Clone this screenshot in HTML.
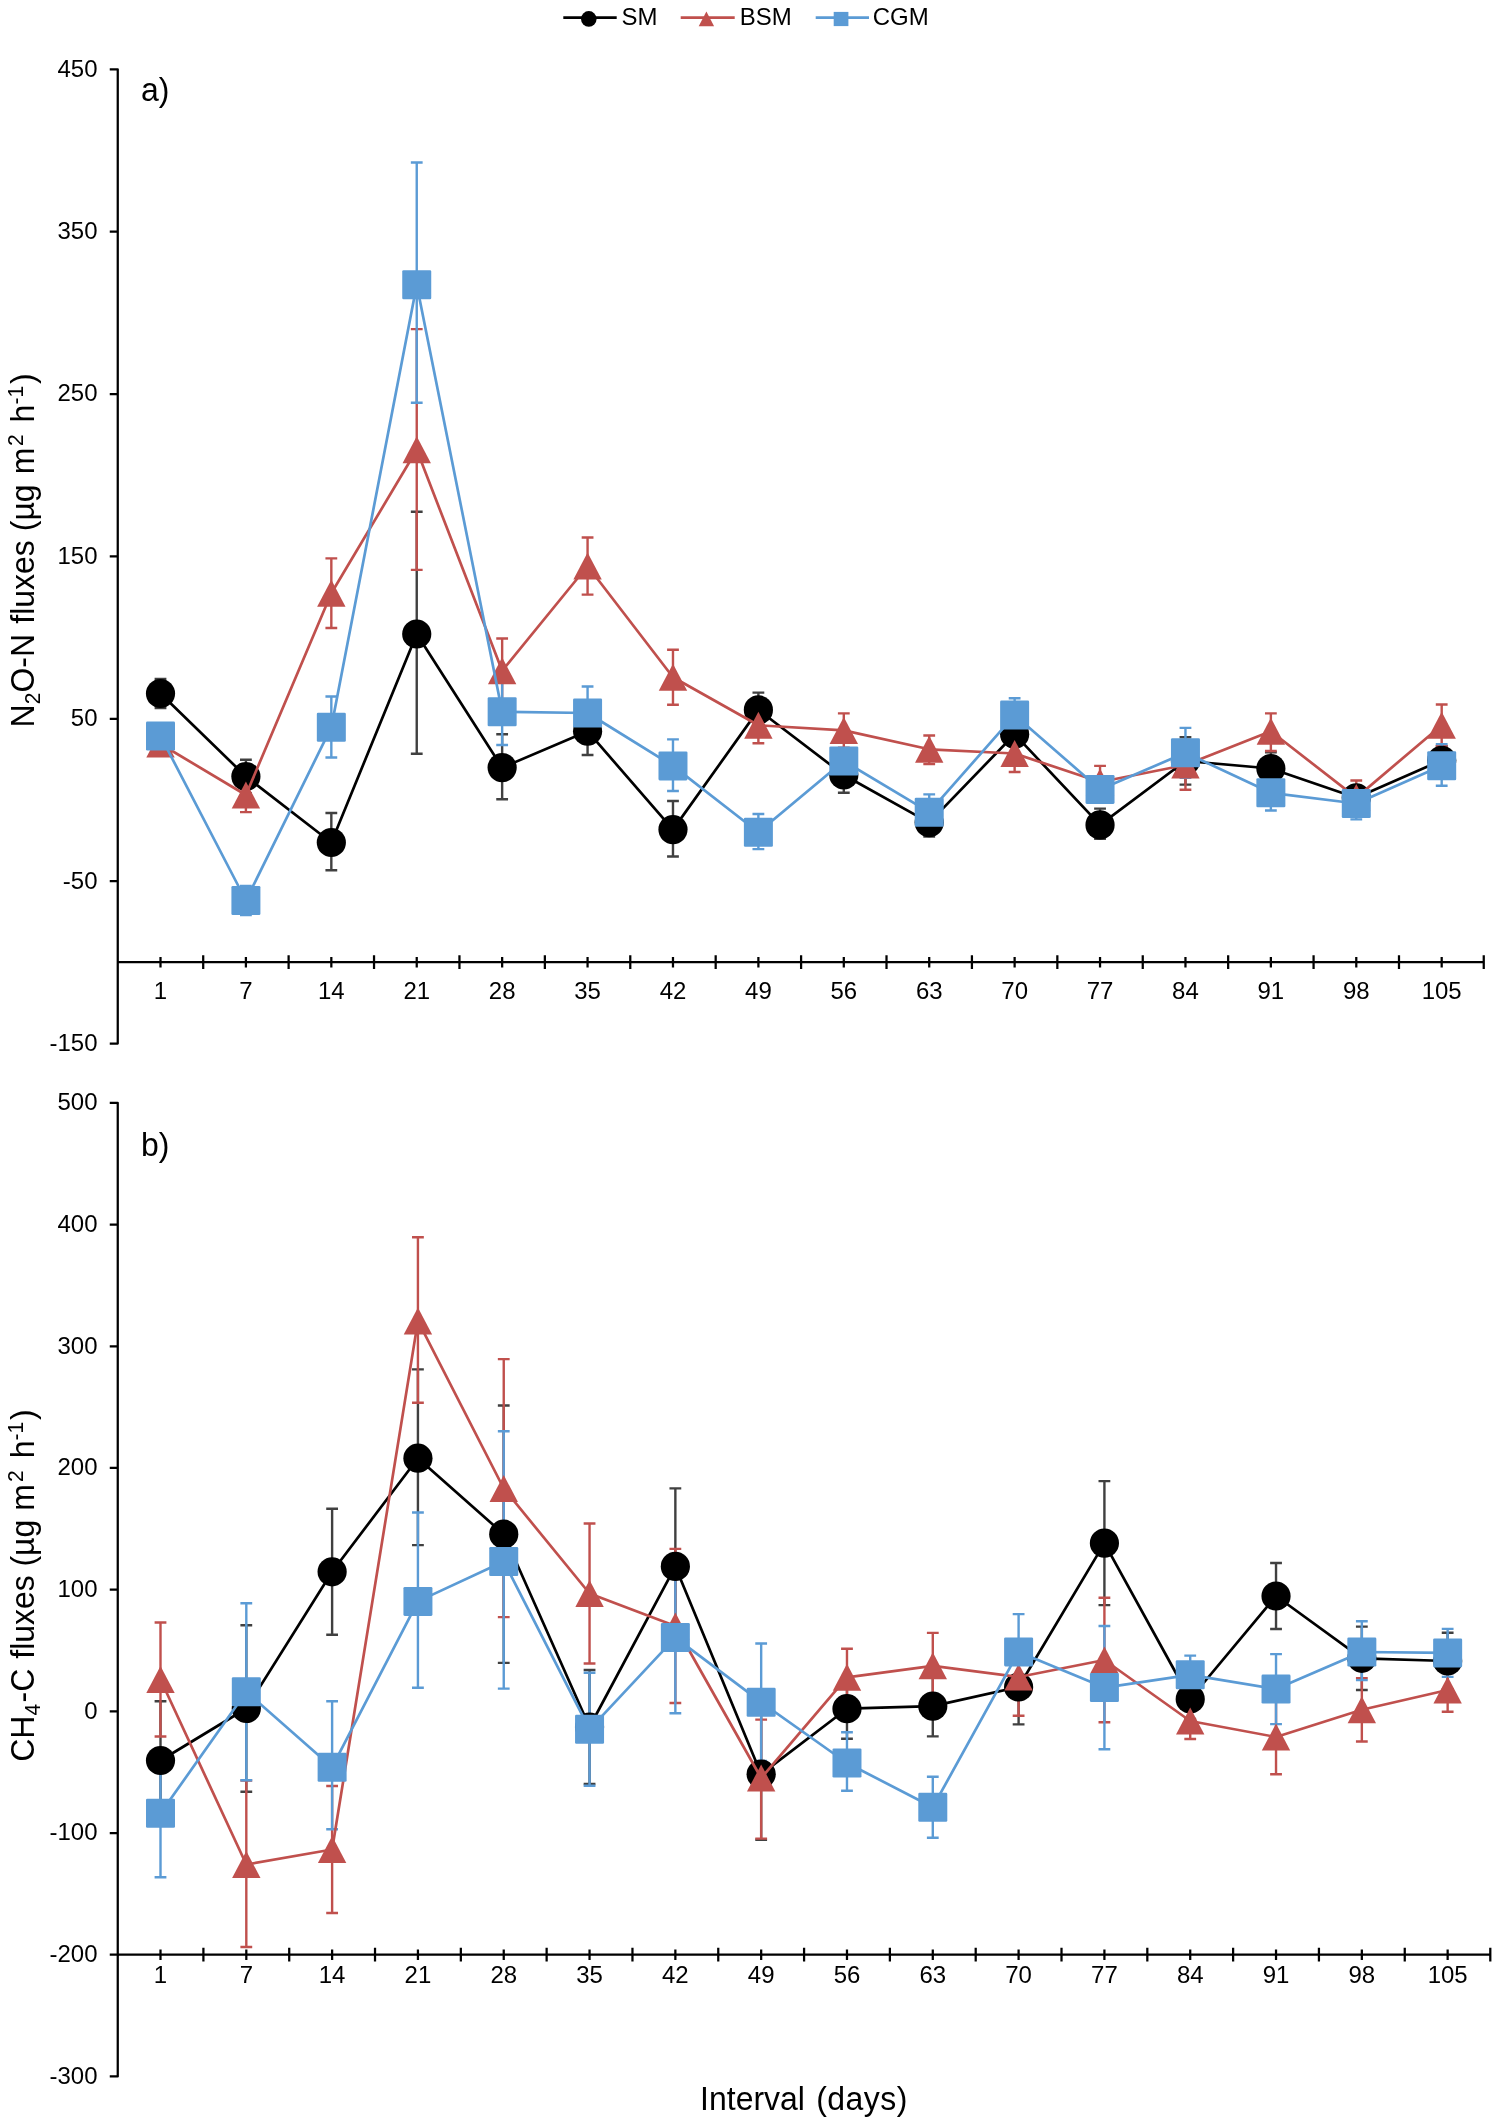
<!DOCTYPE html><html><head><meta charset="utf-8"><style>html,body{margin:0;padding:0;background:#fff}svg{display:block;will-change:transform}text{font-family:"Liberation Sans",sans-serif;fill:#000}</style></head><body>
<svg width="1499" height="2124" viewBox="0 0 1499 2124">
<rect width="1499" height="2124" fill="#fff"/>
<path d="M109.75 69.35H117.75V1043.51H109.75M109.75 231.71H117.75M109.75 394.07H117.75M109.75 556.43H117.75M109.75 718.79H117.75M109.75 881.15H117.75M117.75 962.2H1483.75" stroke="#000" stroke-width="2.25" fill="none" stroke-linejoin="round"/>
<path d="M203.21 955.3V969.1M288.62 955.3V969.1M374.03 955.3V969.1M459.45 955.3V969.1M544.86 955.3V969.1M630.27 955.3V969.1M715.68 955.3V969.1M801.1 955.3V969.1M886.51 955.3V969.1M971.92 955.3V969.1M1057.34 955.3V969.1M1142.75 955.3V969.1M1228.16 955.3V969.1M1313.58 955.3V969.1M1398.99 955.3V969.1M1483.75 955.3V969.1M160.5 956.9V967.5M245.91 956.9V967.5M331.33 956.9V967.5M416.74 956.9V967.5M502.15 956.9V967.5M587.57 956.9V967.5M672.98 956.9V967.5M758.39 956.9V967.5M843.8 956.9V967.5M929.22 956.9V967.5M1014.63 956.9V967.5M1100.04 956.9V967.5M1185.46 956.9V967.5M1270.87 956.9V967.5M1356.28 956.9V967.5M1441.69 956.9V967.5" stroke="#000" stroke-width="2.25" fill="none"/>
<text transform="translate(97.5 76.75) scale(1 1.035)" font-size="24" text-anchor="end">450</text>
<text transform="translate(97.5 239.11) scale(1 1.035)" font-size="24" text-anchor="end">350</text>
<text transform="translate(97.5 401.47) scale(1 1.035)" font-size="24" text-anchor="end">250</text>
<text transform="translate(97.5 563.83) scale(1 1.035)" font-size="24" text-anchor="end">150</text>
<text transform="translate(97.5 726.19) scale(1 1.035)" font-size="24" text-anchor="end">50</text>
<text transform="translate(97.5 888.55) scale(1 1.035)" font-size="24" text-anchor="end">-50</text>
<text transform="translate(97.5 1050.91) scale(1 1.035)" font-size="24" text-anchor="end">-150</text>
<text transform="translate(160.5 999.4) scale(1 1.035)" font-size="24" text-anchor="middle">1</text>
<text transform="translate(245.91 999.4) scale(1 1.035)" font-size="24" text-anchor="middle">7</text>
<text transform="translate(331.33 999.4) scale(1 1.035)" font-size="24" text-anchor="middle">14</text>
<text transform="translate(416.74 999.4) scale(1 1.035)" font-size="24" text-anchor="middle">21</text>
<text transform="translate(502.15 999.4) scale(1 1.035)" font-size="24" text-anchor="middle">28</text>
<text transform="translate(587.57 999.4) scale(1 1.035)" font-size="24" text-anchor="middle">35</text>
<text transform="translate(672.98 999.4) scale(1 1.035)" font-size="24" text-anchor="middle">42</text>
<text transform="translate(758.39 999.4) scale(1 1.035)" font-size="24" text-anchor="middle">49</text>
<text transform="translate(843.8 999.4) scale(1 1.035)" font-size="24" text-anchor="middle">56</text>
<text transform="translate(929.22 999.4) scale(1 1.035)" font-size="24" text-anchor="middle">63</text>
<text transform="translate(1014.63 999.4) scale(1 1.035)" font-size="24" text-anchor="middle">70</text>
<text transform="translate(1100.04 999.4) scale(1 1.035)" font-size="24" text-anchor="middle">77</text>
<text transform="translate(1185.46 999.4) scale(1 1.035)" font-size="24" text-anchor="middle">84</text>
<text transform="translate(1270.87 999.4) scale(1 1.035)" font-size="24" text-anchor="middle">91</text>
<text transform="translate(1356.28 999.4) scale(1 1.035)" font-size="24" text-anchor="middle">98</text>
<text transform="translate(1441.69 999.4) scale(1 1.035)" font-size="24" text-anchor="middle">105</text>
<text transform="translate(141 101.2) scale(1 1.035)" font-size="32">a)</text>
<path d="M160.5 679V708M154.6 679H166.4M154.6 708H166.4M245.91 759.8V793.2M240.01 759.8H251.81M240.01 793.2H251.81M331.33 813V870.2M325.43 813H337.23M325.43 870.2H337.23M416.74 511.7V753.7M410.84 511.7H422.64M410.84 753.7H422.64M502.15 734.2V799.3M496.25 734.2H508.05M496.25 799.3H508.05M587.57 707.2V755M581.67 707.2H593.47M581.67 755H593.47M672.98 801V856.5M667.08 801H678.88M667.08 856.5H678.88M758.39 692.6V727.2M752.49 692.6H764.29M752.49 727.2H764.29M843.8 757.3V792.7M837.9 757.3H849.7M837.9 792.7H849.7M929.22 808.6V836.6M923.32 808.6H935.12M923.32 836.6H935.12M1014.63 724.2V744.2M1008.73 724.2H1020.53M1008.73 744.2H1020.53M1100.04 808.6V838.9M1094.14 808.6H1105.94M1094.14 838.9H1105.94M1185.46 737.3V784.6M1179.56 737.3H1191.36M1179.56 784.6H1191.36M1270.87 752.2V784.8M1264.97 752.2H1276.77M1264.97 784.8H1276.77M1356.28 787.8V807.8M1350.38 787.8H1362.18M1350.38 807.8H1362.18M1441.69 746.3V774.3M1435.79 746.3H1447.6M1435.79 774.3H1447.6" stroke="#404040" stroke-width="2.4" fill="none" stroke-linecap="butt"/>
<path d="M160.5 734V754M154.6 734H166.4M154.6 754H166.4M245.91 778V812.1M240.01 778H251.81M240.01 812.1H251.81M331.33 558.4V628M325.43 558.4H337.23M325.43 628H337.23M416.74 329.1V569.9M410.84 329.1H422.64M410.84 569.9H422.64M502.15 638.5V703.1M496.25 638.5H508.05M496.25 703.1H508.05M587.57 537.5V594.6M581.67 537.5H593.47M581.67 594.6H593.47M672.98 649.7V704.7M667.08 649.7H678.88M667.08 704.7H678.88M758.39 707.7V743.3M752.49 707.7H764.29M752.49 743.3H764.29M843.8 713.4V747.8M837.9 713.4H849.7M837.9 747.8H849.7M929.22 735.5V764.1M923.32 735.5H935.12M923.32 764.1H935.12M1014.63 735.4V772M1008.73 735.4H1020.53M1008.73 772H1020.53M1100.04 765.9V798.1M1094.14 765.9H1105.94M1094.14 798.1H1105.94M1185.46 740.3V789.8M1179.56 740.3H1191.36M1179.56 789.8H1191.36M1270.87 713.4V751M1264.97 713.4H1276.77M1264.97 751H1276.77M1356.28 780.5V815.1M1350.38 780.5H1362.18M1350.38 815.1H1362.18M1441.69 704.5V745.9M1435.79 704.5H1447.6M1435.79 745.9H1447.6" stroke="#C0504D" stroke-width="2.4" fill="none" stroke-linecap="butt"/>
<path d="M160.5 726V746M154.6 726H166.4M154.6 746H166.4M245.91 886V915M240.01 886H251.81M240.01 915H251.81M331.33 696.5V757.5M325.43 696.5H337.23M325.43 757.5H337.23M416.74 162.5V402.8M410.84 162.5H422.64M410.84 402.8H422.64M502.15 678.4V745M496.25 678.4H508.05M496.25 745H508.05M587.57 686.5V739.5M581.67 686.5H593.47M581.67 739.5H593.47M672.98 739.4V791M667.08 739.4H678.88M667.08 791H678.88M758.39 814V849.1M752.49 814H764.29M752.49 849.1H764.29M843.8 751V771M837.9 751H849.7M837.9 771H849.7M929.22 794.4V830M923.32 794.4H935.12M923.32 830H935.12M1014.63 698.2V732M1008.73 698.2H1020.53M1008.73 732H1020.53M1100.04 776.4V802.4M1094.14 776.4H1105.94M1094.14 802.4H1105.94M1185.46 727.9V777.7M1179.56 727.9H1191.36M1179.56 777.7H1191.36M1270.87 775.1V810.5M1264.97 775.1H1276.77M1264.97 810.5H1276.77M1356.28 787.5V819.4M1350.38 787.5H1362.18M1350.38 819.4H1362.18M1441.69 744.1V785.8M1435.79 744.1H1447.6M1435.79 785.8H1447.6" stroke="#5B9BD5" stroke-width="2.4" fill="none" stroke-linecap="butt"/>
<polyline points="160.5,693.5 245.91,776.5 331.33,842.5 416.74,634 502.15,767.6 587.57,731.2 672.98,829.6 758.39,709.9 843.8,775 929.22,822.6 1014.63,734.2 1100.04,824.9 1185.46,761 1270.87,768.5 1356.28,797.8 1441.69,760.3" stroke="#000000" stroke-width="2.7" fill="none" stroke-linejoin="round"/>
<circle cx="160.5" cy="693.5" r="14.6" fill="#000000"/>
<circle cx="245.91" cy="776.5" r="14.6" fill="#000000"/>
<circle cx="331.33" cy="842.5" r="14.6" fill="#000000"/>
<circle cx="416.74" cy="634" r="14.6" fill="#000000"/>
<circle cx="502.15" cy="767.6" r="14.6" fill="#000000"/>
<circle cx="587.57" cy="731.2" r="14.6" fill="#000000"/>
<circle cx="672.98" cy="829.6" r="14.6" fill="#000000"/>
<circle cx="758.39" cy="709.9" r="14.6" fill="#000000"/>
<circle cx="843.8" cy="775" r="14.6" fill="#000000"/>
<circle cx="929.22" cy="822.6" r="14.6" fill="#000000"/>
<circle cx="1014.63" cy="734.2" r="14.6" fill="#000000"/>
<circle cx="1100.04" cy="824.9" r="14.6" fill="#000000"/>
<circle cx="1185.46" cy="761" r="14.6" fill="#000000"/>
<circle cx="1270.87" cy="768.5" r="14.6" fill="#000000"/>
<circle cx="1356.28" cy="797.8" r="14.6" fill="#000000"/>
<circle cx="1441.69" cy="760.3" r="14.6" fill="#000000"/>
<polyline points="160.5,744 245.91,795 331.33,593.3 416.74,449.8 502.15,670.8 587.57,566 672.98,677.3 758.39,725.3 843.8,730.4 929.22,749.3 1014.63,753.5 1100.04,782 1185.46,765 1270.87,731.3 1356.28,797.6 1441.69,725.2" stroke="#C0504D" stroke-width="2.7" fill="none" stroke-linejoin="round"/>
<path d="M160.5 730.5L174.7 757.5L146.3 757.5Z" fill="#C0504D"/>
<path d="M245.91 781.5L260.11 808.5L231.71 808.5Z" fill="#C0504D"/>
<path d="M331.33 579.8L345.53 606.8L317.13 606.8Z" fill="#C0504D"/>
<path d="M416.74 436.3L430.94 463.3L402.54 463.3Z" fill="#C0504D"/>
<path d="M502.15 657.3L516.35 684.3L487.95 684.3Z" fill="#C0504D"/>
<path d="M587.57 552.5L601.77 579.5L573.37 579.5Z" fill="#C0504D"/>
<path d="M672.98 663.8L687.18 690.8L658.78 690.8Z" fill="#C0504D"/>
<path d="M758.39 711.8L772.59 738.8L744.19 738.8Z" fill="#C0504D"/>
<path d="M843.8 716.9L858 743.9L829.6 743.9Z" fill="#C0504D"/>
<path d="M929.22 735.8L943.42 762.8L915.02 762.8Z" fill="#C0504D"/>
<path d="M1014.63 740L1028.83 767L1000.43 767Z" fill="#C0504D"/>
<path d="M1100.04 768.5L1114.24 795.5L1085.84 795.5Z" fill="#C0504D"/>
<path d="M1185.46 751.5L1199.66 778.5L1171.26 778.5Z" fill="#C0504D"/>
<path d="M1270.87 717.8L1285.07 744.8L1256.67 744.8Z" fill="#C0504D"/>
<path d="M1356.28 784.1L1370.48 811.1L1342.08 811.1Z" fill="#C0504D"/>
<path d="M1441.69 711.7L1455.89 738.7L1427.49 738.7Z" fill="#C0504D"/>
<polyline points="160.5,736 245.91,900.5 331.33,727.2 416.74,284.7 502.15,711.7 587.57,713 672.98,765.9 758.39,832.2 843.8,761 929.22,812.2 1014.63,715.1 1100.04,789.4 1185.46,752.8 1270.87,792.8 1356.28,803.5 1441.69,765.8" stroke="#5B9BD5" stroke-width="2.7" fill="none" stroke-linejoin="round"/>
<rect x="146" y="721.5" width="29" height="29" rx="1.3" fill="#5B9BD5"/>
<rect x="231.41" y="886" width="29" height="29" rx="1.3" fill="#5B9BD5"/>
<rect x="316.83" y="712.7" width="29" height="29" rx="1.3" fill="#5B9BD5"/>
<rect x="402.24" y="270.2" width="29" height="29" rx="1.3" fill="#5B9BD5"/>
<rect x="487.65" y="697.2" width="29" height="29" rx="1.3" fill="#5B9BD5"/>
<rect x="573.07" y="698.5" width="29" height="29" rx="1.3" fill="#5B9BD5"/>
<rect x="658.48" y="751.4" width="29" height="29" rx="1.3" fill="#5B9BD5"/>
<rect x="743.89" y="817.7" width="29" height="29" rx="1.3" fill="#5B9BD5"/>
<rect x="829.3" y="746.5" width="29" height="29" rx="1.3" fill="#5B9BD5"/>
<rect x="914.72" y="797.7" width="29" height="29" rx="1.3" fill="#5B9BD5"/>
<rect x="1000.13" y="700.6" width="29" height="29" rx="1.3" fill="#5B9BD5"/>
<rect x="1085.54" y="774.9" width="29" height="29" rx="1.3" fill="#5B9BD5"/>
<rect x="1170.96" y="738.3" width="29" height="29" rx="1.3" fill="#5B9BD5"/>
<rect x="1256.37" y="778.3" width="29" height="29" rx="1.3" fill="#5B9BD5"/>
<rect x="1341.78" y="789" width="29" height="29" rx="1.3" fill="#5B9BD5"/>
<rect x="1427.19" y="751.3" width="29" height="29" rx="1.3" fill="#5B9BD5"/>
<path d="M109.75 1102.9H117.75V2076.42H109.75M109.75 1224.59H117.75M109.75 1346.28H117.75M109.75 1467.97H117.75M109.75 1589.66H117.75M109.75 1711.35H117.75M109.75 1833.04H117.75M109.75 1954.73H117.75M117.75 1954.7H1490.3" stroke="#000" stroke-width="2.25" fill="none" stroke-linejoin="round"/>
<path d="M203.41 1947.8V1961.6M289.22 1947.8V1961.6M375.02 1947.8V1961.6M460.84 1947.8V1961.6M546.64 1947.8V1961.6M632.46 1947.8V1961.6M718.26 1947.8V1961.6M804.08 1947.8V1961.6M889.88 1947.8V1961.6M975.7 1947.8V1961.6M1061.51 1947.8V1961.6M1147.32 1947.8V1961.6M1233.12 1947.8V1961.6M1318.93 1947.8V1961.6M1404.75 1947.8V1961.6M1490.3 1947.8V1961.6M160.5 1949.4V1960M246.31 1949.4V1960M332.12 1949.4V1960M417.93 1949.4V1960M503.74 1949.4V1960M589.55 1949.4V1960M675.36 1949.4V1960M761.17 1949.4V1960M846.98 1949.4V1960M932.79 1949.4V1960M1018.6 1949.4V1960M1104.41 1949.4V1960M1190.22 1949.4V1960M1276.03 1949.4V1960M1361.84 1949.4V1960M1447.65 1949.4V1960" stroke="#000" stroke-width="2.25" fill="none"/>
<text transform="translate(97.5 1110.2) scale(1 1.035)" font-size="24" text-anchor="end">500</text>
<text transform="translate(97.5 1231.89) scale(1 1.035)" font-size="24" text-anchor="end">400</text>
<text transform="translate(97.5 1353.58) scale(1 1.035)" font-size="24" text-anchor="end">300</text>
<text transform="translate(97.5 1475.27) scale(1 1.035)" font-size="24" text-anchor="end">200</text>
<text transform="translate(97.5 1596.96) scale(1 1.035)" font-size="24" text-anchor="end">100</text>
<text transform="translate(97.5 1718.65) scale(1 1.035)" font-size="24" text-anchor="end">0</text>
<text transform="translate(97.5 1840.34) scale(1 1.035)" font-size="24" text-anchor="end">-100</text>
<text transform="translate(97.5 1962.03) scale(1 1.035)" font-size="24" text-anchor="end">-200</text>
<text transform="translate(97.5 2083.72) scale(1 1.035)" font-size="24" text-anchor="end">-300</text>
<text transform="translate(160.5 1983.4) scale(1 1.035)" font-size="24" text-anchor="middle">1</text>
<text transform="translate(246.31 1983.4) scale(1 1.035)" font-size="24" text-anchor="middle">7</text>
<text transform="translate(332.12 1983.4) scale(1 1.035)" font-size="24" text-anchor="middle">14</text>
<text transform="translate(417.93 1983.4) scale(1 1.035)" font-size="24" text-anchor="middle">21</text>
<text transform="translate(503.74 1983.4) scale(1 1.035)" font-size="24" text-anchor="middle">28</text>
<text transform="translate(589.55 1983.4) scale(1 1.035)" font-size="24" text-anchor="middle">35</text>
<text transform="translate(675.36 1983.4) scale(1 1.035)" font-size="24" text-anchor="middle">42</text>
<text transform="translate(761.17 1983.4) scale(1 1.035)" font-size="24" text-anchor="middle">49</text>
<text transform="translate(846.98 1983.4) scale(1 1.035)" font-size="24" text-anchor="middle">56</text>
<text transform="translate(932.79 1983.4) scale(1 1.035)" font-size="24" text-anchor="middle">63</text>
<text transform="translate(1018.6 1983.4) scale(1 1.035)" font-size="24" text-anchor="middle">70</text>
<text transform="translate(1104.41 1983.4) scale(1 1.035)" font-size="24" text-anchor="middle">77</text>
<text transform="translate(1190.22 1983.4) scale(1 1.035)" font-size="24" text-anchor="middle">84</text>
<text transform="translate(1276.03 1983.4) scale(1 1.035)" font-size="24" text-anchor="middle">91</text>
<text transform="translate(1361.84 1983.4) scale(1 1.035)" font-size="24" text-anchor="middle">98</text>
<text transform="translate(1447.65 1983.4) scale(1 1.035)" font-size="24" text-anchor="middle">105</text>
<text transform="translate(141 1155.5) scale(1 1.035)" font-size="32">b)</text>
<path d="M160.5 1701.2V1819.8M154.6 1701.2H166.4M154.6 1819.8H166.4M246.31 1625.2V1791.8M240.41 1625.2H252.21M240.41 1791.8H252.21M332.12 1508.8V1634.8M326.22 1508.8H338.02M326.22 1634.8H338.02M417.93 1369.4V1545.1M412.03 1369.4H423.83M412.03 1545.1H423.83M503.74 1405.5V1662.9M497.84 1405.5H509.64M497.84 1662.9H509.64M589.55 1670V1784M583.65 1670H595.45M583.65 1784H595.45M675.36 1488.4V1644.4M669.46 1488.4H681.26M669.46 1644.4H681.26M761.17 1708.6V1839.8M755.27 1708.6H767.07M755.27 1839.8H767.07M846.98 1678.7V1738.7M841.08 1678.7H852.88M841.08 1738.7H852.88M932.79 1675.8V1736.4M926.89 1675.8H938.69M926.89 1736.4H938.69M1018.6 1649.6V1724.4M1012.7 1649.6H1024.5M1012.7 1724.4H1024.5M1104.41 1481.1V1605.1M1098.51 1481.1H1110.31M1098.51 1605.1H1110.31M1190.22 1679V1719M1184.32 1679H1196.12M1184.32 1719H1196.12M1276.03 1563V1629M1270.13 1563H1281.93M1270.13 1629H1281.93M1361.84 1626.6V1690M1355.94 1626.6H1367.74M1355.94 1690H1367.74M1447.65 1632.7V1689.3M1441.75 1632.7H1453.55M1441.75 1689.3H1453.55" stroke="#404040" stroke-width="2.4" fill="none" stroke-linecap="butt"/>
<path d="M160.5 1622.5V1736.5M154.6 1622.5H166.4M154.6 1736.5H166.4M246.31 1780.5V1947M240.41 1780.5H252.21M240.41 1947H252.21M332.12 1786V1913M326.22 1786H338.02M326.22 1913H338.02M417.93 1237.2V1402.8M412.03 1237.2H423.83M412.03 1402.8H423.83M503.74 1359.1V1617.1M497.84 1359.1H509.64M497.84 1617.1H509.64M589.55 1523.5V1663.5M583.65 1523.5H595.45M583.65 1663.5H595.45M675.36 1548.9V1703M669.46 1548.9H681.26M669.46 1703H681.26M761.17 1719.6V1838.6M755.27 1719.6H767.07M755.27 1838.6H767.07M846.98 1648.8V1705.8M841.08 1648.8H852.88M841.08 1705.8H852.88M932.79 1632.9V1699.7M926.89 1632.9H938.69M926.89 1699.7H938.69M1018.6 1641.4V1715.8M1012.7 1641.4H1024.5M1012.7 1715.8H1024.5M1104.41 1597.7V1722.3M1098.51 1597.7H1110.31M1098.51 1722.3H1110.31M1190.22 1703V1739M1184.32 1703H1196.12M1184.32 1739H1196.12M1276.03 1699.7V1774.3M1270.13 1699.7H1281.93M1270.13 1774.3H1281.93M1361.84 1678.1V1741.5M1355.94 1678.1H1367.74M1355.94 1741.5H1367.74M1447.65 1668.3V1711.7M1441.75 1668.3H1453.55M1441.75 1711.7H1453.55" stroke="#C0504D" stroke-width="2.4" fill="none" stroke-linecap="butt"/>
<path d="M160.5 1749.3V1877.3M154.6 1749.3H166.4M154.6 1877.3H166.4M246.31 1603.3V1780.3M240.41 1603.3H252.21M240.41 1780.3H252.21M332.12 1701.2V1829.3M326.22 1701.2H338.02M326.22 1829.3H338.02M417.93 1512.5V1687.7M412.03 1512.5H423.83M412.03 1687.7H423.83M503.74 1431.3V1688.6M497.84 1431.3H509.64M497.84 1688.6H509.64M589.55 1672.8V1785.8M583.65 1672.8H595.45M583.65 1785.8H595.45M675.36 1561.9V1713.3M669.46 1561.9H681.26M669.46 1713.3H681.26M761.17 1643.5V1760.9M755.27 1643.5H767.07M755.27 1760.9H767.07M846.98 1732.2V1790.7M841.08 1732.2H852.88M841.08 1790.7H852.88M932.79 1776.7V1837.7M926.89 1776.7H938.69M926.89 1837.7H938.69M1018.6 1614.1V1689.7M1012.7 1614.1H1024.5M1012.7 1689.7H1024.5M1104.41 1626V1749.2M1098.51 1626H1110.31M1098.51 1749.2H1110.31M1190.22 1655.6V1694M1184.32 1655.6H1196.12M1184.32 1694H1196.12M1276.03 1654.1V1724.1M1270.13 1654.1H1281.93M1270.13 1724.1H1281.93M1361.84 1621.3V1680.1M1355.94 1621.3H1367.74M1355.94 1680.1H1367.74M1447.65 1628.9V1676.9M1441.75 1628.9H1453.55M1441.75 1676.9H1453.55" stroke="#5B9BD5" stroke-width="2.4" fill="none" stroke-linecap="butt"/>
<polyline points="160.5,1760.5 246.31,1708.5 332.12,1571.8 417.93,1458.2 503.74,1534.2 589.55,1727 675.36,1566.4 761.17,1774.2 846.98,1708.7 932.79,1706.1 1018.6,1687 1104.41,1543.1 1190.22,1699 1276.03,1596 1361.84,1658.3 1447.65,1661" stroke="#000000" stroke-width="2.7" fill="none" stroke-linejoin="round"/>
<circle cx="160.5" cy="1760.5" r="14.6" fill="#000000"/>
<circle cx="246.31" cy="1708.5" r="14.6" fill="#000000"/>
<circle cx="332.12" cy="1571.8" r="14.6" fill="#000000"/>
<circle cx="417.93" cy="1458.2" r="14.6" fill="#000000"/>
<circle cx="503.74" cy="1534.2" r="14.6" fill="#000000"/>
<circle cx="589.55" cy="1727" r="14.6" fill="#000000"/>
<circle cx="675.36" cy="1566.4" r="14.6" fill="#000000"/>
<circle cx="761.17" cy="1774.2" r="14.6" fill="#000000"/>
<circle cx="846.98" cy="1708.7" r="14.6" fill="#000000"/>
<circle cx="932.79" cy="1706.1" r="14.6" fill="#000000"/>
<circle cx="1018.6" cy="1687" r="14.6" fill="#000000"/>
<circle cx="1104.41" cy="1543.1" r="14.6" fill="#000000"/>
<circle cx="1190.22" cy="1699" r="14.6" fill="#000000"/>
<circle cx="1276.03" cy="1596" r="14.6" fill="#000000"/>
<circle cx="1361.84" cy="1658.3" r="14.6" fill="#000000"/>
<circle cx="1447.65" cy="1661" r="14.6" fill="#000000"/>
<polyline points="160.5,1679.5 246.31,1864.5 332.12,1849.5 417.93,1320.9 503.74,1488.5 589.55,1593.5 675.36,1626 761.17,1778 846.98,1677.3 932.79,1665.8 1018.6,1677 1104.41,1660 1190.22,1721 1276.03,1737 1361.84,1709.8 1447.65,1690" stroke="#C0504D" stroke-width="2.7" fill="none" stroke-linejoin="round"/>
<path d="M160.5 1666L174.7 1693L146.3 1693Z" fill="#C0504D"/>
<path d="M246.31 1851L260.51 1878L232.11 1878Z" fill="#C0504D"/>
<path d="M332.12 1836L346.32 1863L317.92 1863Z" fill="#C0504D"/>
<path d="M417.93 1307.4L432.13 1334.4L403.73 1334.4Z" fill="#C0504D"/>
<path d="M503.74 1475L517.94 1502L489.54 1502Z" fill="#C0504D"/>
<path d="M589.55 1580L603.75 1607L575.35 1607Z" fill="#C0504D"/>
<path d="M675.36 1612.5L689.56 1639.5L661.16 1639.5Z" fill="#C0504D"/>
<path d="M761.17 1764.5L775.37 1791.5L746.97 1791.5Z" fill="#C0504D"/>
<path d="M846.98 1663.8L861.18 1690.8L832.78 1690.8Z" fill="#C0504D"/>
<path d="M932.79 1652.3L946.99 1679.3L918.59 1679.3Z" fill="#C0504D"/>
<path d="M1018.6 1663.5L1032.8 1690.5L1004.4 1690.5Z" fill="#C0504D"/>
<path d="M1104.41 1646.5L1118.61 1673.5L1090.21 1673.5Z" fill="#C0504D"/>
<path d="M1190.22 1707.5L1204.42 1734.5L1176.02 1734.5Z" fill="#C0504D"/>
<path d="M1276.03 1723.5L1290.23 1750.5L1261.83 1750.5Z" fill="#C0504D"/>
<path d="M1361.84 1696.3L1376.04 1723.3L1347.64 1723.3Z" fill="#C0504D"/>
<path d="M1447.65 1676.5L1461.85 1703.5L1433.45 1703.5Z" fill="#C0504D"/>
<polyline points="160.5,1813.3 246.31,1691.8 332.12,1767.2 417.93,1601.4 503.74,1561.5 589.55,1729.3 675.36,1637.6 761.17,1702.2 846.98,1763 932.79,1807.2 1018.6,1651.9 1104.41,1687.6 1190.22,1674.8 1276.03,1689.1 1361.84,1652 1447.65,1652.9" stroke="#5B9BD5" stroke-width="2.7" fill="none" stroke-linejoin="round"/>
<rect x="146" y="1798.8" width="29" height="29" rx="1.3" fill="#5B9BD5"/>
<rect x="231.81" y="1677.3" width="29" height="29" rx="1.3" fill="#5B9BD5"/>
<rect x="317.62" y="1752.7" width="29" height="29" rx="1.3" fill="#5B9BD5"/>
<rect x="403.43" y="1586.9" width="29" height="29" rx="1.3" fill="#5B9BD5"/>
<rect x="489.24" y="1547" width="29" height="29" rx="1.3" fill="#5B9BD5"/>
<rect x="575.05" y="1714.8" width="29" height="29" rx="1.3" fill="#5B9BD5"/>
<rect x="660.86" y="1623.1" width="29" height="29" rx="1.3" fill="#5B9BD5"/>
<rect x="746.67" y="1687.7" width="29" height="29" rx="1.3" fill="#5B9BD5"/>
<rect x="832.48" y="1748.5" width="29" height="29" rx="1.3" fill="#5B9BD5"/>
<rect x="918.29" y="1792.7" width="29" height="29" rx="1.3" fill="#5B9BD5"/>
<rect x="1004.1" y="1637.4" width="29" height="29" rx="1.3" fill="#5B9BD5"/>
<rect x="1089.91" y="1673.1" width="29" height="29" rx="1.3" fill="#5B9BD5"/>
<rect x="1175.72" y="1660.3" width="29" height="29" rx="1.3" fill="#5B9BD5"/>
<rect x="1261.53" y="1674.6" width="29" height="29" rx="1.3" fill="#5B9BD5"/>
<rect x="1347.34" y="1637.5" width="29" height="29" rx="1.3" fill="#5B9BD5"/>
<rect x="1433.15" y="1638.4" width="29" height="29" rx="1.3" fill="#5B9BD5"/>
<text transform="translate(33.7 727.4) rotate(-90) scale(1 1.035)" font-size="32" x="0" y="0">N<tspan font-size="21" dy="6">2</tspan><tspan dy="-6" dx="0">O-N</tspan><tspan dx="1.4"> fluxes</tspan><tspan dx="0"> (µg </tspan><tspan dx="1.3">m</tspan><tspan font-size="21" dy="-10.5" dx="1.6">2</tspan><tspan dy="10.5" dx="2.9"> h</tspan><tspan font-size="21" dy="-10.5" dx="0.2">-1</tspan><tspan dy="10.5" dx="1.9">)</tspan></text>
<text transform="translate(33.7 1761.8) rotate(-90) scale(1 1.035)" font-size="32" x="0" y="0">CH<tspan font-size="21" dy="6">4</tspan><tspan dy="-6" dx="1.4">-C</tspan><tspan dx="1.2"> fluxes</tspan><tspan dx="-0.3"> (µg </tspan><tspan dx="0">m</tspan><tspan font-size="21" dy="-10.5" dx="2.2">2</tspan><tspan dy="10.5" dx="3"> h</tspan><tspan font-size="21" dy="-10.5" dx="0">-1</tspan><tspan dy="10.5" dx="1.9">)</tspan></text>
<text transform="translate(700.1 2109.5) scale(1 1.035)" font-size="32">Interval</text>
<text transform="translate(816.2 2109.5) scale(1 1.035)" font-size="32" letter-spacing="0.45">(days)</text>
<path d="M563.3 17.6H616.7" stroke="#000000" stroke-width="2.6"/>
<circle cx="588.8" cy="18.9" r="7.8" fill="#000000"/>
<text transform="translate(621.5 25.1) scale(1 1.035)" font-size="24">SM</text>
<path d="M680.7 17.6H734.7" stroke="#C0504D" stroke-width="2.6"/>
<path d="M706.4 11.6L714.1 26.3L698.7 26.3Z" fill="#C0504D"/>
<text transform="translate(739.8 25.1) scale(1 1.035)" font-size="24">BSM</text>
<path d="M815.7 17.6H869" stroke="#5B9BD5" stroke-width="2.6"/>
<rect x="833.7" y="11.9" width="14.7" height="14.2" fill="#5B9BD5"/>
<text transform="translate(872.8 25.1) scale(1 1.035)" font-size="24">CGM</text>
</svg></body></html>
